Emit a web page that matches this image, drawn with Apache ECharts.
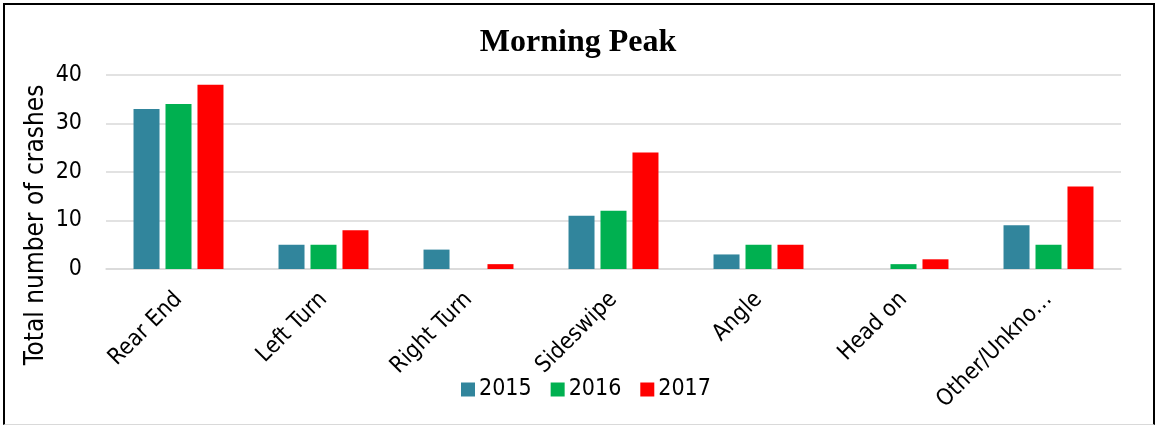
<!DOCTYPE html>
<html>
<head>
<meta charset="utf-8">
<script src="https://cdn.jsdelivr.net/npm/echarts@6/dist/echarts.min.js"></script>
<style>
  html, body { margin: 0; padding: 0; background: #fff; }
  #wrap { position: relative; width: 1156px; height: 425px; }
  #chart { position: absolute; left: 0; top: 0; width: 1156px; height: 425px; }
  #frame {
    position: absolute; left: 3px; top: 3px; width: 1148px; height: 419px;
    border-top: 2px solid #000; border-left: 2px solid #000; border-right: 2px solid #000;
    border-bottom: 1px solid #d9d9d9; pointer-events: none;
  }
</style>
</head>
<body>
<div id="wrap">
  <div id="chart"></div>
  <div id="frame"></div>
</div>
<script>
// Crash types and yearly counts during the morning peak
const categories = ['Rear End', 'Left Turn', 'Right Turn', 'Sideswipe', 'Angle', 'Head on', 'Other/Unkno…'];
const years = ['2015', '2016', '2017'];
const values2015 = [33, 5, 4, 11, 3, 0, 9];
const values2016 = [34, 5, 0, 12, 5, 1, 5];
const values2017 = [38, 8, 1, 24, 5, 2, 17];
const yearColors = ['#31859c', '#00b050', '#ff0000'];
const yAxisTitle = 'Total number of crashes';

const FONT = "'DejaVu Sans Condensed', 'DejaVu Sans', sans-serif";
const chart = echarts.init(document.getElementById('chart'), null, { renderer: 'canvas' });

const seriesData = [values2015, values2016, values2017];

chart.setOption({
  animation: false,
  title: {
    text: 'Morning Peak',
    left: 'center',
    top: 22,
    textStyle: { fontFamily: 'Liberation Serif', fontWeight: 'bold', fontSize: 32, color: '#000' }
  },
  legend: {
    data: years,
    top: 373,
    left: 456,
    itemWidth: 14,
    itemHeight: 14,
    itemGap: 19,
    icon: 'rect',
    textStyle: { fontFamily: FONT, fontSize: 23, color: '#000', padding: [0, 0, 0, -1] }
  },
  grid: { left: 106, right: 35, top: 75, bottom: 156, containLabel: false },
  // vertical axis title, centred on the plot plus its category labels
  graphic: [{
    type: 'text',
    x: 36,
    y: 225,
    rotation: Math.PI / 2,
    style: {
      text: yAxisTitle,
      fontFamily: FONT,
      fontSize: 26,
      fill: '#000',
      align: 'center',
      verticalAlign: 'middle'
    }
  }],
  xAxis: {
    type: 'category',
    data: categories,
    axisLine: { show: true, lineStyle: { color: '#d9d9d9', width: 1.5 } },
    axisTick: { show: false },
    axisLabel: {
      rotate: 45,
      interval: 0,
      margin: 27,
      fontFamily: FONT,
      fontSize: 23,
      color: '#000'
    }
  },
  yAxis: {
    type: 'value',
    min: 0,
    max: 40,
    interval: 10,
    axisLine: { show: false },
    axisTick: { show: false },
    axisLabel: { fontFamily: FONT, fontSize: 23, color: '#000', margin: 24 },
    splitLine: { lineStyle: { color: '#d9d9d9', width: 1.5 } }
  },
  series: years.map((y, i) => ({
    name: y,
    type: 'bar',
    data: seriesData[i],
    barWidth: 26,
    barGap: '23%',
    itemStyle: { color: yearColors[i] }
  }))
});
</script>
</body>
</html>
